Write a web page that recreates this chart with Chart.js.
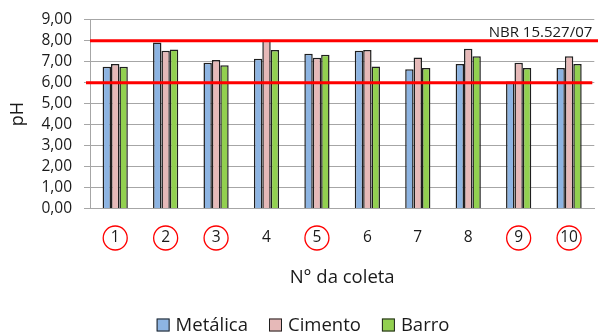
<!DOCTYPE html>
<html>
<head>
<meta charset="utf-8">
<script src="https://cdn.jsdelivr.net/npm/chart.js@4.4.1/dist/chart.umd.min.js"></script>
<style>
  html, body { margin: 0; padding: 0; background: #fff; }
  #wrap { width: 598px; height: 336px; }
</style>
</head>
<body>
<div id="wrap"><canvas id="c" width="598" height="336"></canvas></div>
<script>
// pH das amostras por coleta e tipo de captação
const coletas = ['1', '2', '3', '4', '5', '6', '7', '8', '9', '10'];
const metalica = [6.76, 7.92, 6.95, 7.14, 7.38, 7.52, 6.64, 6.89, 6.06, 6.70];
const cimento  = [6.89, 7.52, 7.08, 8.05, 7.19, 7.56, 7.20, 7.62, 6.95, 7.26];
const barro    = [6.76, 7.58, 6.83, 7.56, 7.33, 6.77, 6.70, 7.26, 6.70, 6.89];
const yTicks = [0, 1, 2, 3, 4, 5, 6, 7, 8, 9];
// limites da norma
const limiteSuperior = 8;
const limiteInferior = 6;
const normaTexto = 'NBR 15.527/07';
// coletas destacadas
const destacadas = ['1', '2', '3', '5', '9', '10'];

const FONT = '"Open Sans", Lato, sans-serif';
const TXT = '#1a1a1a';
const GRID = '#a6a6a6';

// linhas de limite, texto da norma, círculos e legenda
const extras = {
  id: 'extras',
  afterDatasetsDraw(chart) {
    const { ctx, chartArea, scales } = chart;
    const y = scales.y;
    ctx.save();
    ctx.strokeStyle = '#ff0000';
    ctx.lineWidth = 3;
    let py = y.getPixelForValue(limiteSuperior);
    ctx.beginPath();
    ctx.moveTo(chartArea.left, py);
    ctx.lineTo(chart.width, py);
    ctx.stroke();
    py = y.getPixelForValue(limiteInferior);
    ctx.beginPath();
    ctx.moveTo(chartArea.left - 4, py);
    ctx.lineTo(chartArea.right - 2, py);
    ctx.stroke();
    ctx.fillStyle = TXT;
    ctx.font = '15px ' + FONT;
    ctx.textAlign = 'right';
    ctx.textBaseline = 'alphabetic';
    ctx.fillText(normaTexto, chartArea.right - 2, y.getPixelForValue(limiteSuperior) - 4);
    ctx.restore();
  },
  afterDraw(chart) {
    const { ctx, scales } = chart;
    const x = scales.x;
    ctx.save();
    ctx.strokeStyle = '#ff0000';
    ctx.lineWidth = 1.3;
    const cy = chart.chartArea.bottom + 29.5;
    coletas.forEach((c, i) => {
      if (!destacadas.includes(c)) return;
      const cx = x.getPixelForTick(i);
      ctx.beginPath();
      ctx.arc(cx, cy, 12, 0, Math.PI * 2);
      ctx.stroke();
    });

    // legenda
    const box = 13, gapText = 6, gapItem = 21, ly = 325;
    ctx.font = '18.5px ' + FONT;
    ctx.textBaseline = 'middle';
    ctx.textAlign = 'left';
    const items = chart.data.datasets.map(d => ({ d, w: ctx.measureText(d.label).width }));
    const total = items.reduce((s, it) => s + box + gapText + it.w, 0) + gapItem * (items.length - 1);
    let lx = chart.width / 2 + 4 - total / 2;
    items.forEach(({ d, w }) => {
      ctx.fillStyle = d.backgroundColor;
      ctx.fillRect(lx, ly - box / 2, box, box);
      ctx.strokeStyle = d.borderColor;
      ctx.lineWidth = 1;
      ctx.strokeRect(lx + 0.5, ly - box / 2 + 0.5, box - 1, box - 1);
      ctx.fillStyle = TXT;
      ctx.fillText(d.label, lx + box + gapText, ly + 1);
      lx += box + gapText + w + gapItem;
    });
    ctx.restore();
  }
};

new Chart(document.getElementById('c'), {
  type: 'bar',
  data: {
    labels: coletas,
    datasets: [
      { label: 'Metálica', data: metalica, backgroundColor: '#8db4e2', borderColor: '#1f1f1f', borderWidth: 1.5 },
      { label: 'Cimento',  data: cimento,  backgroundColor: '#e6b9b8', borderColor: '#1f1f1f', borderWidth: 1.5 },
      { label: 'Barro',    data: barro,    backgroundColor: '#92d050', borderColor: '#1f1f1f', borderWidth: 1.5 }
    ]
  },
  options: {
    responsive: false,
    animation: false,
    devicePixelRatio: 1,
    layout: { padding: { left: 7, right: 1, top: 18, bottom: 40 } },
    datasets: { bar: { categoryPercentage: 0.5, barPercentage: 1 } },
    plugins: {
      legend: { display: false },
      tooltip: { enabled: false }
    },
    scales: {
      x: {
        grid: { display: false, drawTicks: false },
        border: { color: GRID, width: 1 },
        ticks: { color: TXT, font: { family: FONT, size: 15.5 }, padding: 20, maxRotation: 0, autoSkip: false },
        title: { display: true, text: 'N° da coleta', color: TXT, font: { family: FONT, size: 18.5 }, padding: { top: 0, bottom: 7 } },
        afterFit(s) { s.height = 87.5; }
      },
      y: {
        min: 0,
        max: 9,
        afterBuildTicks(s) { s.ticks = yTicks.map(v => ({ value: v })); },
        grid: { color: GRID, lineWidth: 1, tickLength: 6, drawTicks: true },
        border: { color: GRID, width: 1 },
        ticks: {
          color: TXT,
          font: { family: FONT, size: 15.5, lineHeight: 1 },
          padding: 12,
          autoSkip: false,
          callback: v => v.toFixed(2).replace('.', ',')
        },
        title: { display: true, text: 'pH', color: TXT, font: { family: FONT, size: 18 }, padding: 0 },
        afterFit(s) { s.width = 83; }
      }
    }
  },
  plugins: [extras]
});
</script>
</body>
</html>
